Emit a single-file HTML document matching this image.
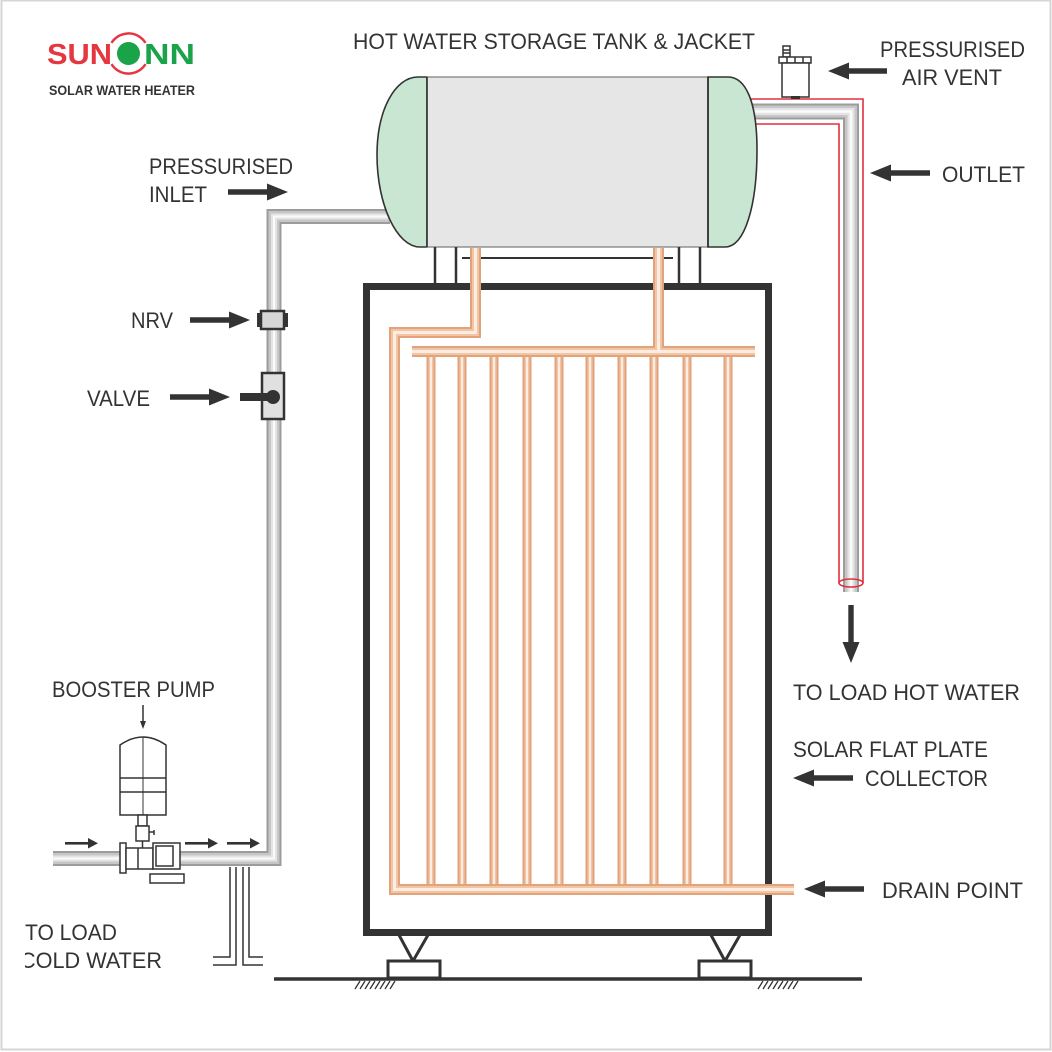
<!DOCTYPE html>
<html><head><meta charset="utf-8">
<style>html,body{margin:0;padding:0;background:#fff}svg{display:block}</style>
</head>
<body>
<svg width="1052" height="1052" viewBox="0 0 1052 1052" xmlns="http://www.w3.org/2000/svg" font-family="'Liberation Sans', Arial, sans-serif">
<defs>
  <clipPath id="clipL"><rect x="25" y="900" width="200" height="100"/></clipPath>
</defs>
<rect x="0" y="0" width="1052" height="1052" fill="#fff"/>
<rect x="1.5" y="0.5" width="1049" height="1049" fill="none" stroke="#d6d6d6" stroke-width="2"/>

<!-- LOGO -->
<text x="47" y="64" font-size="29" font-weight="bold" fill="#e63640" textLength="65" lengthAdjust="spacingAndGlyphs">SUN</text>
<circle cx="128.5" cy="53.5" r="11.5" fill="#1ba34a"/>
<path d="M111.5,42.9 A20,20 0 0 1 145.5,42.9" fill="none" stroke="#e63640" stroke-width="2.5"/>
<path d="M145.5,64.1 A20,20 0 0 1 111.5,64.1" fill="none" stroke="#e63640" stroke-width="2.5"/>
<text x="144" y="64" font-size="29" font-weight="bold" fill="#1ba34a" textLength="51" lengthAdjust="spacingAndGlyphs">NN</text>
<text x="49" y="95" font-size="13.5" font-weight="bold" fill="#333" textLength="146" lengthAdjust="spacingAndGlyphs">SOLAR WATER HEATER</text>

<!-- SILVER PIPES -->
<g fill="none" stroke-linejoin="miter" stroke-linecap="butt">
  <path d="M390,216.5 H274 V858.5 H53" stroke="#9c9c9c" stroke-width="15"/>
  <path d="M390,216.5 H274 V858.5 H53" stroke="#c6c6c6" stroke-width="11"/>
  <path d="M390,216.5 H274 V858.5 H53" stroke="#e4e4e4" stroke-width="6"/>
  <path d="M390,216.5 H274 V858.5 H53" stroke="#fbfbfb" stroke-width="2"/>

  <path d="M745,111.5 H851 V592" stroke="#9c9c9c" stroke-width="16"/>
  <path d="M745,111.5 H851 V592" stroke="#c6c6c6" stroke-width="12"/>
  <path d="M745,111.5 H851 V592" stroke="#e4e4e4" stroke-width="7"/>
  <path d="M745,111.5 H851 V592" stroke="#fbfbfb" stroke-width="2.5"/>
</g>
<!-- red jacket -->
<g fill="none" stroke="#e0303e" stroke-width="1.6">
  <path d="M750,99 H863 V583"/>
  <path d="M754,124 H839 V583"/>
  <ellipse cx="851" cy="583" rx="12" ry="4"/>
</g>

<!-- TANK -->
<path d="M427,77 L418,77 C395,77 377,110 377,155 C377,205 397,247 420,247 L427,247 Z" fill="#c9e6d3" stroke="#333" stroke-width="1.6"/>
<rect x="427" y="77" width="281" height="170" fill="#e6e6e6" stroke="#7a7a7a" stroke-width="1.2"/>
<path d="M708,77 L728,77 C745,77 757,100 757,150 C757,205 745,247 725,247 L708,247 Z" fill="#c9e6d3" stroke="#333" stroke-width="1.6"/>
<line x1="427" y1="77" x2="427" y2="247" stroke="#333" stroke-width="1.6"/>
<line x1="708" y1="77" x2="708" y2="247" stroke="#333" stroke-width="1.6"/>

<!-- tank legs -->
<g stroke="#333" stroke-width="2.5">
  <line x1="435" y1="247" x2="435" y2="284"/>
  <line x1="456" y1="247" x2="456" y2="284"/>
  <line x1="679" y1="247" x2="679" y2="284"/>
  <line x1="700" y1="247" x2="700" y2="284"/>
  <line x1="462" y1="258" x2="673" y2="258" stroke-width="2"/>
</g>

<!-- AIR VENT -->
<g stroke="#333" stroke-width="1.5" fill="#fff">
  <rect x="783" y="46" width="7" height="11"/>
  <line x1="783" y1="50" x2="790" y2="50"/>
  <line x1="783" y1="53" x2="790" y2="53"/>
  <rect x="779" y="57" width="32" height="6"/>
  <line x1="787" y1="57" x2="787" y2="63"/>
  <line x1="795" y1="57" x2="795" y2="63"/>
  <line x1="803" y1="57" x2="803" y2="63"/>
  <rect x="782" y="63" width="27" height="34"/>
</g>
<rect x="791" y="96" width="9" height="3" fill="#333"/>

<!-- FRAME -->
<rect x="366.5" y="286.5" width="402" height="646" fill="none" stroke="#333" stroke-width="7"/>

<!-- COPPER PIPES -->
<g fill="none" stroke-linejoin="miter">
  <path id="ris" d="M431,357V884 M462,357V884 M494,357V884 M527,357V884 M559,357V884 M590,357V884 M622,357V884 M654,357V884 M687,357V884 M728,357V884" stroke="#e2a27a" stroke-width="9"/>
  <path d="M431,357V884 M462,357V884 M494,357V884 M527,357V884 M559,357V884 M590,357V884 M622,357V884 M654,357V884 M687,357V884 M728,357V884" stroke="#f1c6a7" stroke-width="5"/>
  <path d="M431,357V884 M462,357V884 M494,357V884 M527,357V884 M559,357V884 M590,357V884 M622,357V884 M654,357V884 M687,357V884 M728,357V884" stroke="#fdece1" stroke-width="2"/>

  <path d="M475.5,248 V332.5 H394.5 V889.5 H794 M412,351.5 H755 M658.5,248 V351.5" stroke="#e2a27a" stroke-width="11"/>
  <path d="M475.5,248 V332.5 H394.5 V889.5 H794 M412,351.5 H755 M658.5,248 V351.5" stroke="#f1c6a7" stroke-width="7"/>
  <path d="M475.5,248 V332.5 H394.5 V889.5 H794 M412,351.5 H755 M658.5,248 V351.5" stroke="#fdece1" stroke-width="3"/>
</g>

<!-- SUPPORTS & GROUND -->
<g stroke="#333" stroke-width="3" fill="#fff">
  <polyline points="399,935 413,961 428,935" fill="none"/>
  <rect x="388" y="961" width="52" height="17"/>
  <polyline points="711,935 725,961 740,935" fill="none"/>
  <rect x="699" y="961" width="52" height="17"/>
</g>
<line x1="274" y1="979" x2="862" y2="979" stroke="#333" stroke-width="3.5"/>
<g stroke="#333" stroke-width="1.3">
  <path d="M355,989 L360,981 M360,989 L365,981 M365,989 L370,981 M370,989 L375,981 M375,989 L380,981 M380,989 L385,981 M385,989 L390,981 M390,989 L395,981"/>
  <path d="M758,989 L763,981 M763,989 L768,981 M768,989 L773,981 M773,989 L778,981 M778,989 L783,981 M783,989 L788,981 M788,989 L793,981 M793,989 L798,981"/>
</g>

<!-- NRV & VALVE -->
<rect x="261" y="311" width="23" height="18" fill="#d6d6d6" stroke="#333" stroke-width="2.5"/>
<rect x="257" y="313" width="4" height="14" fill="#333"/>
<rect x="284" y="313" width="4" height="14" fill="#333"/>
<rect x="262" y="373" width="22" height="46" fill="#e0e0e0" stroke="#333" stroke-width="2.5"/>
<rect x="240" y="393" width="33" height="8" fill="#333"/>
<circle cx="273" cy="397" r="7" fill="#333"/>

<!-- BOOSTER PUMP -->
<g stroke="#333" stroke-width="1.5" fill="#fff">
  <path d="M120,815 V745 Q143,729 166,745 V815 Z"/>
  <line x1="120" y1="778" x2="166" y2="778"/>
  <line x1="120" y1="792" x2="166" y2="792"/>
  <line x1="143" y1="737" x2="143" y2="815" stroke-width="1"/>
  <rect x="138" y="815" width="9" height="11"/>
  <rect x="136" y="826" width="13" height="15"/>
  <line x1="149" y1="832" x2="154" y2="832"/>
  <line x1="154" y1="830" x2="154" y2="835"/>
  <line x1="142.5" y1="841" x2="142.5" y2="848"/>
  <rect x="120" y="843" width="6" height="30"/>
  <rect x="126" y="848" width="27" height="21"/>
  <line x1="138" y1="848" x2="138" y2="869"/>
  <rect x="153" y="843" width="27" height="26"/>
  <rect x="156" y="846" width="17" height="20"/>
  <rect x="150" y="874" width="34" height="9"/>
</g>
<g fill="none" stroke="#333" stroke-width="1.5">
  <path d="M230,867 V957 H213"/>
  <path d="M236,867 V965 H213"/>
  <path d="M249,867 V957 H263"/>
  <path d="M243,867 V965 H263"/>
</g>
<!-- small arrows -->
<g fill="#333">
  <line x1="143" y1="705" x2="143" y2="722" stroke="#333" stroke-width="1.5"/>
  <polygon points="140,721 146,721 143,729"/>
  <rect x="65" y="842" width="24" height="2.6"/>
  <polygon points="88,838 98,843.3 88,848.5"/>
  <rect x="185" y="842" width="24" height="2.6"/>
  <polygon points="208,838 218,843.3 208,848.5"/>
  <rect x="227" y="842" width="24" height="2.6"/>
  <polygon points="250,838 260,843.3 250,848.5"/>
</g>

<!-- BIG ARROWS -->
<g fill="#333">
  <!-- vent, pointing left -->
  <polygon points="828,71 849,62.5 849,68.3 887,68.3 887,73.7 849,73.7 849,79.5"/>
  <!-- outlet -->
  <polygon points="870,173 891,164.5 891,170.3 930,170.3 930,175.7 891,175.7 891,181.5"/>
  <!-- inlet, right -->
  <polygon points="288,192 267,183.5 267,189.3 228,189.3 228,194.7 267,194.7 267,200.5"/>
  <!-- NRV -->
  <polygon points="250,320 229,311.5 229,317.3 190,317.3 190,322.7 229,322.7 229,328.5"/>
  <!-- valve -->
  <polygon points="230,397 209,388.5 209,394.3 170,394.3 170,399.7 209,399.7 209,405.5"/>
  <!-- down arrow -->
  <polygon points="851,663 842.5,642 848.3,642 848.3,605 853.7,605 853.7,642 859.5,642"/>
  <!-- collector -->
  <polygon points="793,778 814,769.5 814,775.3 853,775.3 853,780.7 814,780.7 814,786.5"/>
  <!-- drain -->
  <polygon points="804,889 825,880.5 825,886.3 864,886.3 864,891.7 825,891.7 825,897.5"/>
</g>

<!-- LABELS -->
<g fill="#333" font-size="22">
  <text x="353" y="49" textLength="402" lengthAdjust="spacingAndGlyphs">HOT WATER STORAGE TANK &amp; JACKET</text>
  <text x="880" y="57" textLength="145" lengthAdjust="spacingAndGlyphs">PRESSURISED</text>
  <text x="902" y="85" textLength="100" lengthAdjust="spacingAndGlyphs">AIR VENT</text>
  <text x="942" y="182" textLength="83" lengthAdjust="spacingAndGlyphs">OUTLET</text>
  <text x="149" y="174" textLength="144" lengthAdjust="spacingAndGlyphs">PRESSURISED</text>
  <text x="149" y="202" textLength="58" lengthAdjust="spacingAndGlyphs">INLET</text>
  <text x="131" y="328" textLength="42" lengthAdjust="spacingAndGlyphs">NRV</text>
  <text x="87" y="406" textLength="63" lengthAdjust="spacingAndGlyphs">VALVE</text>
  <text x="52" y="697" textLength="163" lengthAdjust="spacingAndGlyphs">BOOSTER PUMP</text>
  <g clip-path="url(#clipL)">
    <text x="25" y="940" textLength="92" lengthAdjust="spacingAndGlyphs">TO LOAD</text>
    <text x="20" y="968" textLength="142" lengthAdjust="spacingAndGlyphs">COLD WATER</text>
  </g>
  <text x="793" y="700" textLength="227" lengthAdjust="spacingAndGlyphs">TO LOAD HOT WATER</text>
  <text x="793" y="757" textLength="195" lengthAdjust="spacingAndGlyphs">SOLAR FLAT PLATE</text>
  <text x="865" y="786" textLength="123" lengthAdjust="spacingAndGlyphs">COLLECTOR</text>
  <text x="882" y="898" textLength="141" lengthAdjust="spacingAndGlyphs">DRAIN POINT</text>
</g>
</svg>
</body></html>
